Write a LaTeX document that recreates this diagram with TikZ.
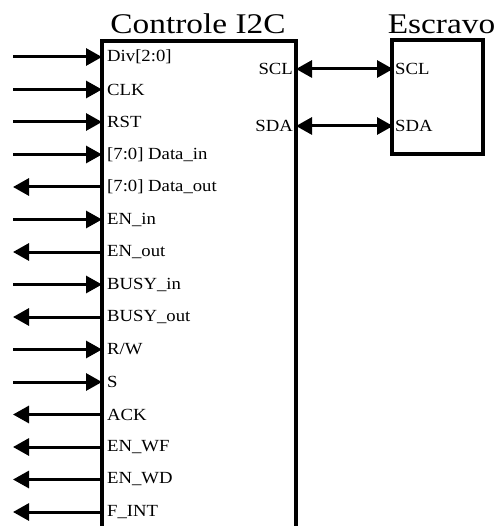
\documentclass[tikz,border=0pt]{standalone}
\usepackage{fontspec}
\setmainfont{Liberation Serif}
\usepackage{tikz}
\usetikzlibrary{arrows.meta,positioning}
\newcommand{\wtext}[1]{\scalebox{1.1}[1]{#1}}
\newcommand{\wtitle}[1]{\scalebox{1.17}[1]{#1}}
\tikzset{
  unit/.style={
    draw,
    line width=3.2pt,
    inner sep=0pt
  },
  title/.style={
    anchor=base,
    inner sep=0pt,
    font=\fontsize{28.5}{32}\selectfont
  },
  pinin/.style={
    anchor=west,
    inner xsep=5pt,
    inner ysep=0pt,
    font=\fontsize{17}{20}\selectfont
  },
  pinout/.style={
    anchor=east,
    inner xsep=3pt,
    inner ysep=0pt,
    font=\fontsize{17}{20}\selectfont
  },
  wire/.style={line width=3pt, -{Triangle[length=16pt,width=17pt]}},
  bus/.style={line width=3pt, {Triangle[length=16pt,width=17pt]}-{Triangle[length=16pt,width=17pt]}}
}

\begin{document}
\begin{tikzpicture}[x=1pt,y=-1pt]
  \clip (0,0) rectangle (495,526);

  % blocks
  \node[unit, minimum width=194pt, minimum height=560pt] (ctrl) at (199,321) {};
  \node[unit, minimum width=91pt, minimum height=114pt] (slave) at (437.5,97) {};
  \node[title] (ctrltitle) at (198,34) {\wtitle{Controle I2C}};
  \node[title] (slavetitle) at (441.5,34) {\wtitle{Escravo}};

  % controller pins, left side
  \node[pinin] (div) at (102,57) {\wtext{Div[2:0]}};
  \node[pinin] (clk) at (102,89.5) {\wtext{CLK}};
  \node[pinin] (rst) at (102,122) {\wtext{RST}};
  \node[pinin] (din) at (102,154.5) {\wtext{[7:0] Data\_in}};
  \node[pinin] (dout) at (102,187) {\wtext{[7:0] Data\_out}};
  \node[pinin] (enin) at (102,219.5) {\wtext{EN\_in}};
  \node[pinin] (enout) at (102,252) {\wtext{EN\_out}};
  \node[pinin] (busyin) at (102,284.5) {\wtext{BUSY\_in}};
  \node[pinin] (busyout) at (102,317) {\wtext{BUSY\_out}};
  \node[pinin] (rw) at (102,349.5) {\wtext{R/W}};
  \node[pinin] (start) at (102,382) {\wtext{S}};
  \node[pinin] (ack) at (102,414.5) {\wtext{ACK}};
  \node[pinin] (enwf) at (102,447) {\wtext{EN\_WF}};
  \node[pinin] (enwd) at (102,479.5) {\wtext{EN\_WD}};
  \node[pinin] (fint) at (102,512) {\wtext{F\_INT}};

  % free ends
  \coordinate (xdiv) at (13,57);
  \coordinate (xclk) at (13,89.5);
  \coordinate (xrst) at (13,122);
  \coordinate (xdin) at (13,154.5);
  \coordinate (xdout) at (13,187);
  \coordinate (xenin) at (13,219.5);
  \coordinate (xenout) at (13,252);
  \coordinate (xbusyin) at (13,284.5);
  \coordinate (xbusyout) at (13,317);
  \coordinate (xrw) at (13,349.5);
  \coordinate (xstart) at (13,382);
  \coordinate (xack) at (13,414.5);
  \coordinate (xenwf) at (13,447);
  \coordinate (xenwd) at (13,479.5);
  \coordinate (xfint) at (13,512);

  % I2C lines
  \node[pinout] (sclm) at (296,69) {\wtext{SCL}};
  \node[pinout] (sdam) at (296,126) {\wtext{SDA}};
  \node[pinin, inner xsep=2pt] (scls) at (393,69) {\wtext{SCL}};
  \node[pinin, inner xsep=2pt] (sdas) at (393,126) {\wtext{SDA}};

  \draw[wire] (xdiv) -- (div.west);
  \draw[wire] (xclk) -- (clk.west);
  \draw[wire] (xrst) -- (rst.west);
  \draw[wire] (xdin) -- (din.west);
  \draw[wire] (dout.west) -- (xdout);
  \draw[wire] (xenin) -- (enin.west);
  \draw[wire] (enout.west) -- (xenout);
  \draw[wire] (xbusyin) -- (busyin.west);
  \draw[wire] (busyout.west) -- (xbusyout);
  \draw[wire] (xrw) -- (rw.west);
  \draw[wire] (xstart) -- (start.west);
  \draw[wire] (ack.west) -- (xack);
  \draw[wire] (enwf.west) -- (xenwf);
  \draw[wire] (enwd.west) -- (xenwd);
  \draw[wire] (fint.west) -- (xfint);
  \draw[bus] (sclm.east) -- (scls.west);
  \draw[bus] (sdam.east) -- (sdas.west);
\end{tikzpicture}
\end{document}
